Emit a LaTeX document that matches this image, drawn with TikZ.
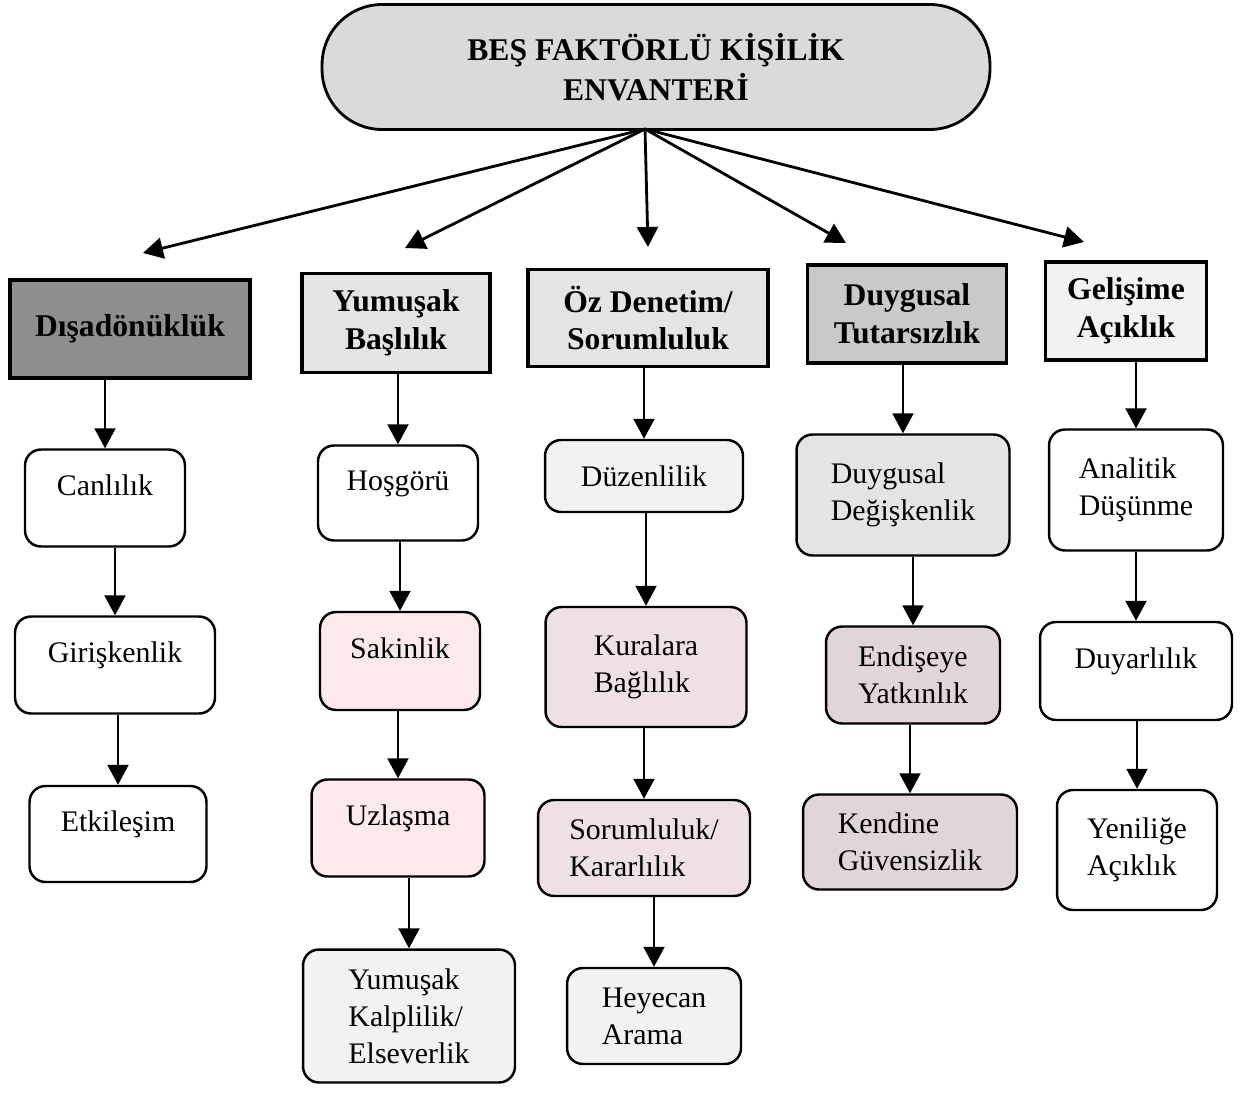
\documentclass[tikz,border=0pt]{standalone}
\usepackage{fontspec}
\setmainfont{Liberation Serif}
\usetikzlibrary{arrows.meta, positioning}
\definecolor{cgrey}{HTML}{DADADA}
\definecolor{cdark}{HTML}{8E8E8E}
\definecolor{cmid}{HTML}{C9C9C9}
\definecolor{clight}{HTML}{E4E4E4}
\definecolor{cpale}{HTML}{F2F2F2}
\definecolor{cpink}{HTML}{FBE9EC}
\definecolor{cpinkgrey}{HTML}{EFE1E3}
\definecolor{cdusk}{HTML}{E2D5D7}
\tikzset{
  every picture/.style={line width=1.4pt},
  title/.style={draw, fill=cgrey, rounded corners=1.2cm, align=center, line width=1.6pt,
    font=\fontsize{18}{22.5}\selectfont\bfseries},
  hdr/.style={draw, fill=#1, align=center, line width=1.8pt, inner sep=4pt,
    font=\fontsize{18}{21.5}\selectfont\bfseries},
  hdr/.default=white,
  sub/.style={draw, fill=#1, rounded corners=0.32cm, align=left, line width=1.4pt,
    font=\fontsize{17}{21}\selectfont},
  sub/.default=white,
  up/.style={text depth=0.5cm},
  arrow/.style={-{Triangle[length=4mm, width=4.2mm]}, line width=1.2pt},
}

\begin{document}
\begin{tikzpicture}[x=0.02cm, y=-0.02cm]
  \useasboundingbox (0,0) rectangle (1244,1098);
  % top: the inventory
  \node[title, minimum width=13.36cm, minimum height=2.5cm] (bes) at (656,67) {BEŞ FAKTÖRLÜ KİŞİLİK\\ENVANTERİ};
  % row 1: the five factors
  \node[hdr=cdark, minimum width=4.8cm, minimum height=1.96cm] (disa) at (130,329) {Dışadönüklük};
  \node[hdr=clight, minimum width=3.76cm, minimum height=1.98cm] (yumu) at (396,323) {Yumuşak\\Başlılık};
  \node[hdr=clight, minimum width=4.8cm, minimum height=1.94cm] (ozde) at (648,318) {Öz Denetim/\\Sorumluluk};
  \node[hdr=cmid, minimum width=3.98cm, minimum height=1.96cm] (duyg) at (907,314) {Duygusal\\Tutarsızlık};
  \node[hdr=cpale, minimum width=3.22cm, minimum height=1.96cm] (geli) at (1126,311) {Gelişime\\Açıklık};
  % fan of arrows from the inventory
  \coordinate (hub) at (645,129);
  \coordinate (t1) at (143,253);
  \coordinate (t2) at (405,248);
  \coordinate (t3) at (648,247);
  \coordinate (t4) at (846,243);
  \coordinate (t5) at (1084,242);
  \foreach \t in {t1,t2,t3,t4,t5}
    \draw[arrow, line width=1.6pt] (hub) -- (\t);
  % column 1
  \node[sub, up, minimum width=3.2cm, minimum height=1.94cm] (canli) at (105,498) {Canlılık};
  \node[sub, up, minimum width=4.0cm, minimum height=1.94cm] (giris) at (115,665) {Girişkenlik};
  \node[sub, up, minimum width=3.54cm, minimum height=1.92cm] (etkil) at (118,834) {Etkileşim};
  % column 2
  \node[sub, up, minimum width=3.2cm, minimum height=1.9cm] (hosgo) at (398,493) {Hoşgörü};
  \node[sub=cpink, up, minimum width=3.2cm, minimum height=1.96cm] (sakin) at (400,661) {Sakinlik};
  \node[sub=cpink, up, minimum width=3.46cm, minimum height=1.94cm] (uzlas) at (398,828) {Uzlaşma};
  \node[sub=cpale, minimum width=4.24cm, minimum height=2.66cm] (kalpl) at (409,1016) {Yumuşak\\Kalplilik/\\Elseverlik};
  % column 3
  \node[sub=cpale, minimum width=3.96cm, minimum height=1.44cm] (duzen) at (644,476) {Düzenlilik};
  \node[sub=cpinkgrey, minimum width=4.02cm, minimum height=2.4cm] (kural) at (646,667) {Kuralara\\Bağlılık};
  \node[sub=cpinkgrey, minimum width=4.24cm, minimum height=1.92cm] (sorum) at (644,848) {Sorumluluk/\\Kararlılık};
  \node[sub=cpale, minimum width=3.48cm, minimum height=1.92cm] (heyec) at (654,1016) {Heyecan\\Arama};
  % column 4
  \node[sub=clight, minimum width=4.26cm, minimum height=2.42cm] (degis) at (903,495) {Duygusal\\Değişkenlik};
  \node[sub=cdusk, minimum width=3.48cm, minimum height=1.94cm] (endis) at (913,675) {Endişeye\\Yatkınlık};
  \node[sub=cdusk, minimum width=4.28cm, minimum height=1.9cm] (guven) at (910,842) {Kendine\\Güvensizlik};
  % column 5
  \node[sub, minimum width=3.48cm, minimum height=2.42cm] (anali) at (1136,490) {Analitik\\Düşünme};
  \node[sub, up, minimum width=3.84cm, minimum height=1.96cm] (duyar) at (1136,671) {Duyarlılık};
  \node[sub, minimum width=3.2cm, minimum height=2.4cm] (yenil) at (1137,850) {Yeniliğe\\Açıklık};
  % arrows down each column
  \foreach \a/\b in {disa/canli, canli/giris, giris/etkil,
                     yumu/hosgo, hosgo/sakin, sakin/uzlas, uzlas/kalpl,
                     ozde/duzen, duzen/kural, kural/sorum, sorum/heyec,
                     duyg/degis, degis/endis, endis/guven,
                     geli/anali, anali/duyar, duyar/yenil}
    \draw[arrow] (\a.south -| \b.north) -- (\b.north);
\end{tikzpicture}
\end{document}
